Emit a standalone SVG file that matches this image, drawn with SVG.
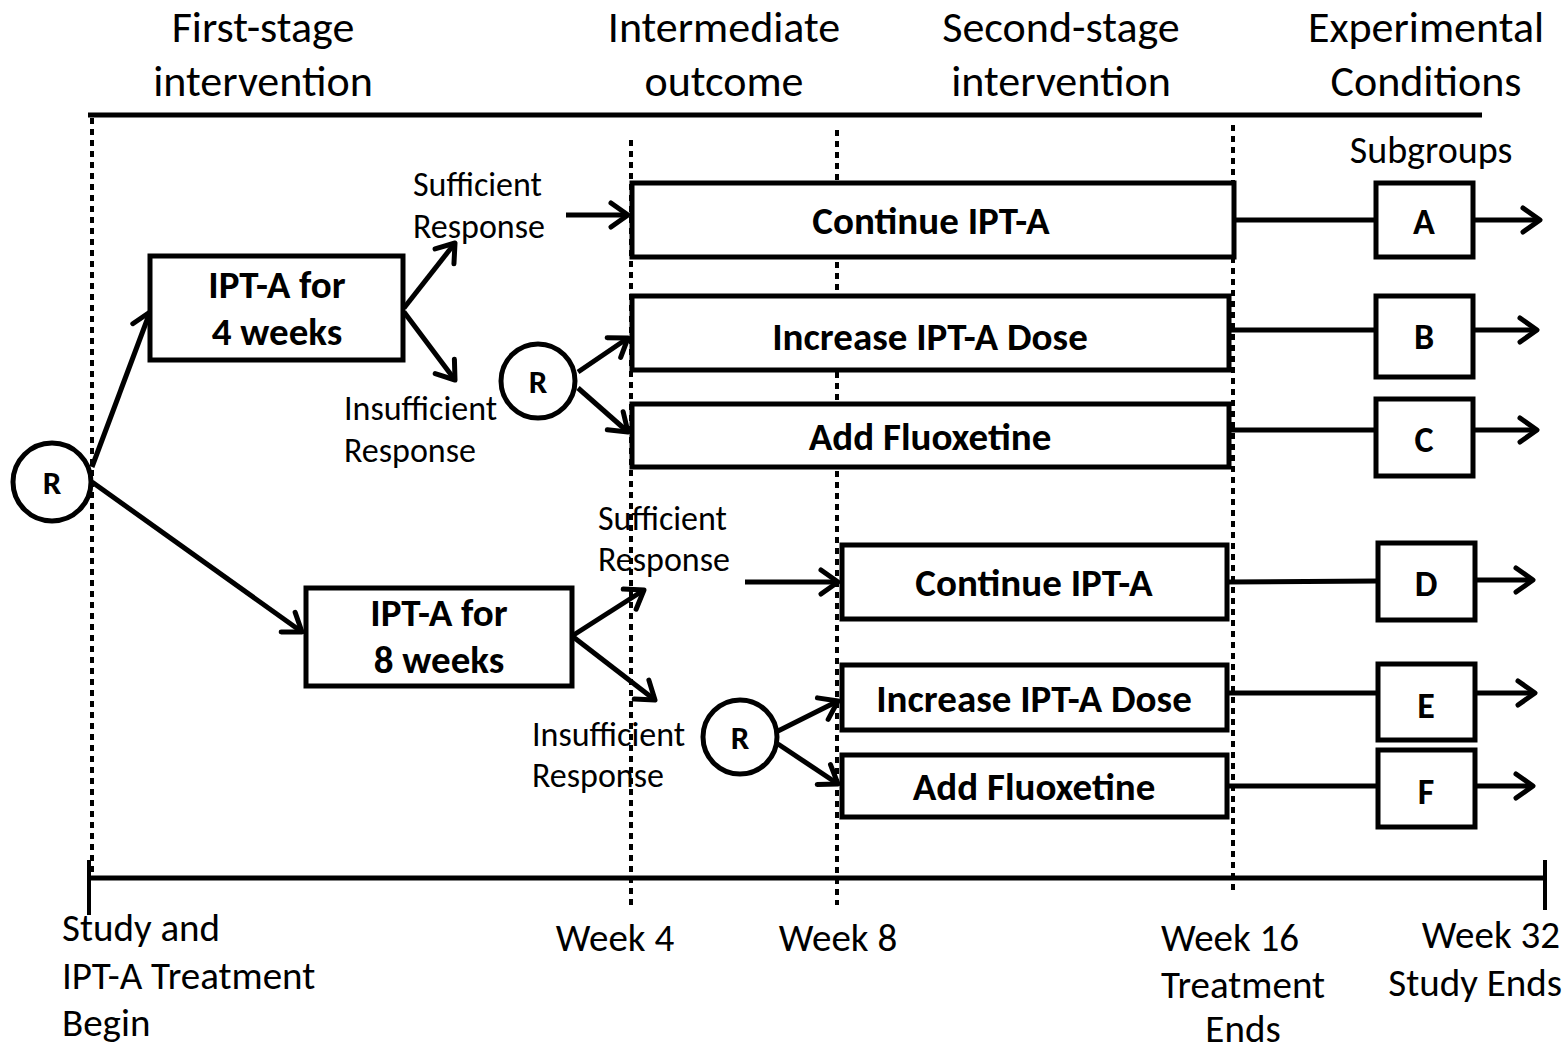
<svg xmlns="http://www.w3.org/2000/svg" width="1568" height="1049" viewBox="0 0 1568 1049">
<defs>
<marker id="ah" viewBox="-22 -15 26 30" markerWidth="26" markerHeight="30" refX="0" refY="0" orient="auto" markerUnits="userSpaceOnUse">
<path d="M-17,-12 L0,0 L-17,12" fill="none" stroke="#000" stroke-width="5" stroke-linecap="round" stroke-linejoin="round"/>
</marker>
<style>
.t{font-family:Carlito,"Liberation Sans",sans-serif;fill:#000}
.h{font-size:44px;text-anchor:middle}
.s{font-size:34px}
.w{font-size:39px}
.m{text-anchor:middle}
.b{font-size:39px;font-weight:bold;text-anchor:middle}
.l{font-size:36px;font-weight:bold;text-anchor:middle}
.r{font-size:33px;font-weight:bold;text-anchor:middle}
.box{fill:#fff;stroke:#000;stroke-width:5}
.dot{stroke:#000;stroke-width:4;stroke-dasharray:6 5;fill:none}
.ln{stroke:#000;stroke-width:5;fill:none}
.ar{stroke:#000;stroke-width:5;fill:none;marker-end:url(#ah)}
.c{fill:#fff;stroke:#000;stroke-width:5}
</style>
</defs>
<rect width="1568" height="1049" fill="#fff"/>

<g id="headers">
<text class="t h" x="263" y="42">First-stage</text>
<text class="t h" x="263" y="96">intervention</text>
<text class="t h" x="724" y="42">Intermediate</text>
<text class="t h" x="724" y="96">outcome</text>
<text class="t h" x="1061" y="42">Second-stage</text>
<text class="t h" x="1061" y="96">intervention</text>
<text class="t h" x="1426" y="42">Experimental</text>
<text class="t h" x="1426" y="96">Conditions</text>
</g>

<g id="timeline">
<line x1="88" y1="115" x2="1482" y2="115" stroke="#000" stroke-width="5"/>
<line class="dot" x1="92" y1="118" x2="92" y2="878"/>
<line class="dot" x1="631" y1="140" x2="631" y2="905"/>
<line class="dot" x1="837" y1="130" x2="837" y2="905"/>
<line class="dot" x1="1233" y1="125" x2="1233" y2="895"/>
<line x1="88" y1="878" x2="1545" y2="878" stroke="#000" stroke-width="5"/>
<line x1="89" y1="860" x2="89" y2="915" stroke="#000" stroke-width="4"/>
<line x1="1545" y1="860" x2="1545" y2="910" stroke="#000" stroke-width="4"/>
<text class="t w" x="62" y="941">Study and</text>
<text class="t w" x="62" y="989">IPT-A Treatment</text>
<text class="t w" x="62" y="1036">Begin</text>
<text class="t w m" x="615" y="951">Week 4</text>
<text class="t w m" x="838" y="951">Week 8</text>
<text class="t w m" x="1230" y="951">Week 16</text>
<text class="t w m" x="1243" y="998">Treatment</text>
<text class="t w m" x="1243" y="1042">Ends</text>
<text class="t w" x="1560" y="948" style="text-anchor:end">Week 32</text>
<text class="t w" x="1562" y="996" style="text-anchor:end">Study Ends</text>
<text class="t m" x="1431" y="163" style="font-size:38px">Subgroups</text>
</g>

<g id="connectors">
<line class="ar" x1="92" y1="467" x2="150" y2="312"/>
<line class="ar" x1="92" y1="482" x2="302" y2="632"/>
<line class="ar" x1="404" y1="308" x2="455" y2="243"/>
<line class="ar" x1="404" y1="312" x2="455" y2="380"/>
<line class="ar" x1="566" y1="215" x2="628" y2="215"/>
<line class="ar" x1="578" y1="372" x2="628" y2="338"/>
<line class="ar" x1="578" y1="388" x2="628" y2="432"/>
<line class="ln" x1="1234" y1="220" x2="1376" y2="220"/>
<line class="ar" x1="1473" y1="220" x2="1540" y2="220"/>
<line class="ln" x1="1229" y1="330" x2="1376" y2="330"/>
<line class="ar" x1="1473" y1="330" x2="1537" y2="330"/>
<line class="ln" x1="1229" y1="430" x2="1376" y2="430"/>
<line class="ar" x1="1473" y1="430" x2="1537" y2="430"/>
<line class="ar" x1="572" y1="636" x2="644" y2="590"/>
<line class="ar" x1="572" y1="636" x2="655" y2="700"/>
<line class="ar" x1="745" y1="582" x2="838" y2="582"/>
<line class="ar" x1="778" y1="731" x2="838" y2="701"/>
<line class="ar" x1="778" y1="744" x2="838" y2="784"/>
<line class="ln" x1="1227" y1="582" x2="1378" y2="581"/>
<line class="ar" x1="1475" y1="580" x2="1533" y2="580"/>
<line class="ln" x1="1227" y1="693" x2="1378" y2="693"/>
<line class="ar" x1="1475" y1="693" x2="1535" y2="693"/>
<line class="ln" x1="1227" y1="786" x2="1378" y2="786"/>
<line class="ar" x1="1475" y1="786" x2="1533" y2="786"/>
</g>

<g id="labels">
<text class="t s" x="413" y="196">Sufficient</text>
<text class="t s" x="413" y="238">Response</text>
<text class="t s" x="344" y="420">Insufficient</text>
<text class="t s" x="344" y="462">Response</text>
<text class="t s" x="598" y="530">Sufficient</text>
<text class="t s" x="598" y="571">Response</text>
<text class="t s" x="532" y="746">Insufficient</text>
<text class="t s" x="532" y="787">Response</text>
</g>

<g id="R1"><circle class="c" cx="52" cy="482" r="39"/><text class="t r" x="52" y="494">R</text></g>
<g id="R2"><circle class="c" cx="538" cy="381" r="37"/><text class="t r" x="538" y="393">R</text></g>
<g id="R3"><circle class="c" cx="740" cy="737" r="37"/><text class="t r" x="740" y="749">R</text></g>

<g id="ipt4"><rect class="box" x="150" y="256" width="253" height="104"/>
<text class="t b" x="277" y="298">IPT-A for</text><text class="t b" x="277" y="345">4 weeks</text></g>
<g id="ipt8"><rect class="box" x="306" y="588" width="266" height="98"/>
<text class="t b" x="439" y="626">IPT-A for</text><text class="t b" x="439" y="673">8 weeks</text></g>

<g id="cont1"><rect class="box" x="632" y="183" width="602" height="74"/><text class="t b" x="931" y="234">Continue IPT-A</text></g>
<g id="inc1"><rect class="box" x="632" y="296" width="597" height="74"/><text class="t b" x="930" y="350">Increase IPT-A Dose</text></g>
<g id="flu1"><rect class="box" x="632" y="404" width="597" height="63"/><text class="t b" x="930" y="450">Add Fluoxetine</text></g>
<g id="cont2"><rect class="box" x="842" y="545" width="385" height="74"/><text class="t b" x="1034" y="596">Continue IPT-A</text></g>
<g id="inc2"><rect class="box" x="842" y="665" width="385" height="65"/><text class="t b" x="1034" y="712">Increase IPT-A Dose</text></g>
<g id="flu2"><rect class="box" x="842" y="755" width="385" height="62"/><text class="t b" x="1034" y="800">Add Fluoxetine</text></g>

<g id="A"><rect class="box" x="1376" y="183" width="97" height="74"/><text class="t l" x="1424" y="234">A</text></g>
<g id="B"><rect class="box" x="1376" y="296" width="97" height="81"/><text class="t l" x="1424" y="349">B</text></g>
<g id="C"><rect class="box" x="1376" y="399" width="97" height="77"/><text class="t l" x="1424" y="452">C</text></g>
<g id="D"><rect class="box" x="1378" y="543" width="97" height="77"/><text class="t l" x="1426" y="596">D</text></g>
<g id="E"><rect class="box" x="1378" y="664" width="97" height="76"/><text class="t l" x="1426" y="718">E</text></g>
<g id="F"><rect class="box" x="1378" y="750" width="97" height="77"/><text class="t l" x="1426" y="804">F</text></g>
</svg>
